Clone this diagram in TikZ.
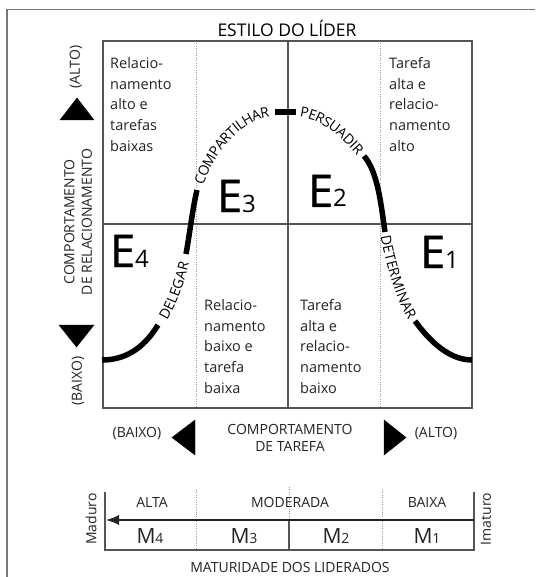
\documentclass[tikz,border=0pt]{standalone}
\usepackage{fontspec}
\setmainfont{Open Sans}
\newfontfamily\heavyfont[FakeBold=0.6]{Open Sans}
\usetikzlibrary{arrows.meta,decorations.text}
\definecolor{LiderGrid}{RGB}{85,85,85}
\definecolor{LiderDots}{RGB}{150,150,150}
\definecolor{LiderFrame}{RGB}{120,120,120}
\definecolor{LiderInk}{RGB}{35,35,35}
\newcommand{\bellfont}{\fontsize{14}{14}\selectfont}
\newcommand{\estilo}[2]{{\heavyfont\fontsize{45}{45}\selectfont #1}{\fontsize{24}{24}\selectfont #2}}
\newcommand{\matur}[2]{{\fontsize{21}{21}\selectfont #1}{\fontsize{14}{14}\selectfont #2}}

\begin{document}
\begin{tikzpicture}[
    x=1pt,y=-1pt,
    frame/.style={draw=LiderFrame,line width=1.2pt},
    gridline/.style={draw=LiderGrid,line width=1.4pt},
    dotline/.style={draw=LiderDots,line width=1pt,dash pattern=on 1pt off 1.4pt},
    bell/.style={draw=black,line width=5.5pt},
    bell label/.style={decorate,decoration={text along path,text align=center,raise=-5pt,text={|\bellfont|#1}}},
    quad/.style={anchor=north west,inner sep=0pt,align=left,text=LiderInk,font=\fontsize{14.5}{20.8}\selectfont},
    axis/.style={inner sep=0pt,align=center,text=LiderInk,font=\fontsize{14}{17.5}\selectfont},
    style label/.style={anchor=base west,inner sep=0pt,text=black},
    tri/.style={fill=black}
  ]
    \useasboundingbox (0,0) rectangle (535,577);
    \draw[frame] (7,577) -- (7,9.5) -- (535,9.5);
    \node[axis,font=\fontsize{17.5}{17.5}\selectfont,text=black] (title) at (287,28) {ESTILO DO LÍDER};
    \draw[dotline] (196,41) -- (196,408);
    \draw[dotline] (380,41) -- (380,408);
    \draw[gridline] (103,41) rectangle (472,408);
    \draw[gridline] (103,224) -- (472,224);
    \draw[gridline] (288,41) -- (288,408);
    \node[quad] (q4text) at (110,57) {Relacio-\\namento\\alto e\\tarefas\\baixas};
    \node[quad] (q1text) at (389,57) {Tarefa\\alta e\\relacio-\\namento\\alto};
    \node[quad] (q3text) at (204,299) {Relacio-\\namento\\baixo e\\tarefa\\baixa};
    \node[quad] (q2text) at (300,299) {Tarefa\\alta e\\relacio-\\namento\\baixo};
    \node[style label] (e4) at (110,267) {\estilo{E}{4}};
    \node[style label] (e3) at (217,212) {\estilo{E}{3}};
    \node[style label] (e2) at (308,207) {\estilo{E}{2}};
    \node[style label] (e1) at (420,268) {\estilo{E}{1}};
    \draw[bell] (102,360) .. controls (130,360) and (147,343) .. (158,325);
    \path[bell label=DELEGAR] (158,325) .. controls (171,309) and (182,274) .. (186,254);
    \draw[bell] (186,254) .. controls (189,238) and (193,206) .. (197,190);
    \path[bell label=COMPARTILHAR] (197,190) .. controls (206,154) and (238,112) .. (275,112);
    \draw[bell] (275,112) -- (296,112);
    \path[bell label=PERSUADIR] (296,112) .. controls (326,112) and (350,140) .. (364,156);
    \draw[bell] (364,156) .. controls (378,172) and (381,205) .. (385,232);
    \path[bell label=DETERMINAR] (385,232) .. controls (389,259) and (402,303) .. (415,321);
    \draw[bell] (415,321) .. controls (428,339) and (448,360) .. (472,360);
    \draw[tri] (77,98) -- (94,120) -- (60,120) -- cycle;
    \draw[tri] (59,325) -- (94,325) -- (76.5,347) -- cycle;
    \node[axis,rotate=90] (relhigh) at (76,67) {(ALTO)};
    \node[axis,rotate=90] (relaxis) at (78,222) {COMPORTAMENTO\\DE RELACIONAMENTO};
    \node[axis,rotate=90] (rellow) at (78,381) {(BAIXO)};
    \draw[tri] (172,437.5) -- (195,420) -- (195,455) -- cycle;
    \draw[tri] (384,420) -- (406,437.5) -- (384,455) -- cycle;
    \node[axis] (tasklow) at (137,434) {(BAIXO)};
    \node[axis] (taskaxis) at (290,438) {COMPORTAMENTO\\DE TAREFA};
    \node[axis] (taskhigh) at (436,434) {(ALTO)};
    \draw[dotline] (196,490) -- (196,550);
    \draw[dotline] (382,490) -- (382,550);
    \draw[dotline] (289,487) -- (289,520);
    \draw[gridline] (289,520) -- (289,550);
    \draw[gridline] (105,492) -- (105,550) -- (474,550) -- (474,492);
    \draw[gridline,draw=LiderInk,-{Latex[length=13pt,width=10pt]}] (474,520) -- (106,520);
    \node[axis] (alta) at (152,502) {ALTA};
    \node[axis] (moderada) at (290,502) {MODERADA};
    \node[axis] (baixa) at (427,502) {BAIXA};
    \node[axis] (m4) at (150,536) {\matur{M}{4}};
    \node[axis] (m3) at (244,536) {\matur{M}{3}};
    \node[axis] (m2) at (336,536) {\matur{M}{2}};
    \node[axis] (m1) at (427,536) {\matur{M}{1}};
    \node[axis,rotate=90] (maduro) at (91,519) {Maduro};
    \node[axis,rotate=90] (imaturo) at (486,519) {Imaturo};
    \node[axis] (maturidade) at (290,567) {MATURIDADE DOS LIDERADOS};
  \end{tikzpicture}
\end{document}
